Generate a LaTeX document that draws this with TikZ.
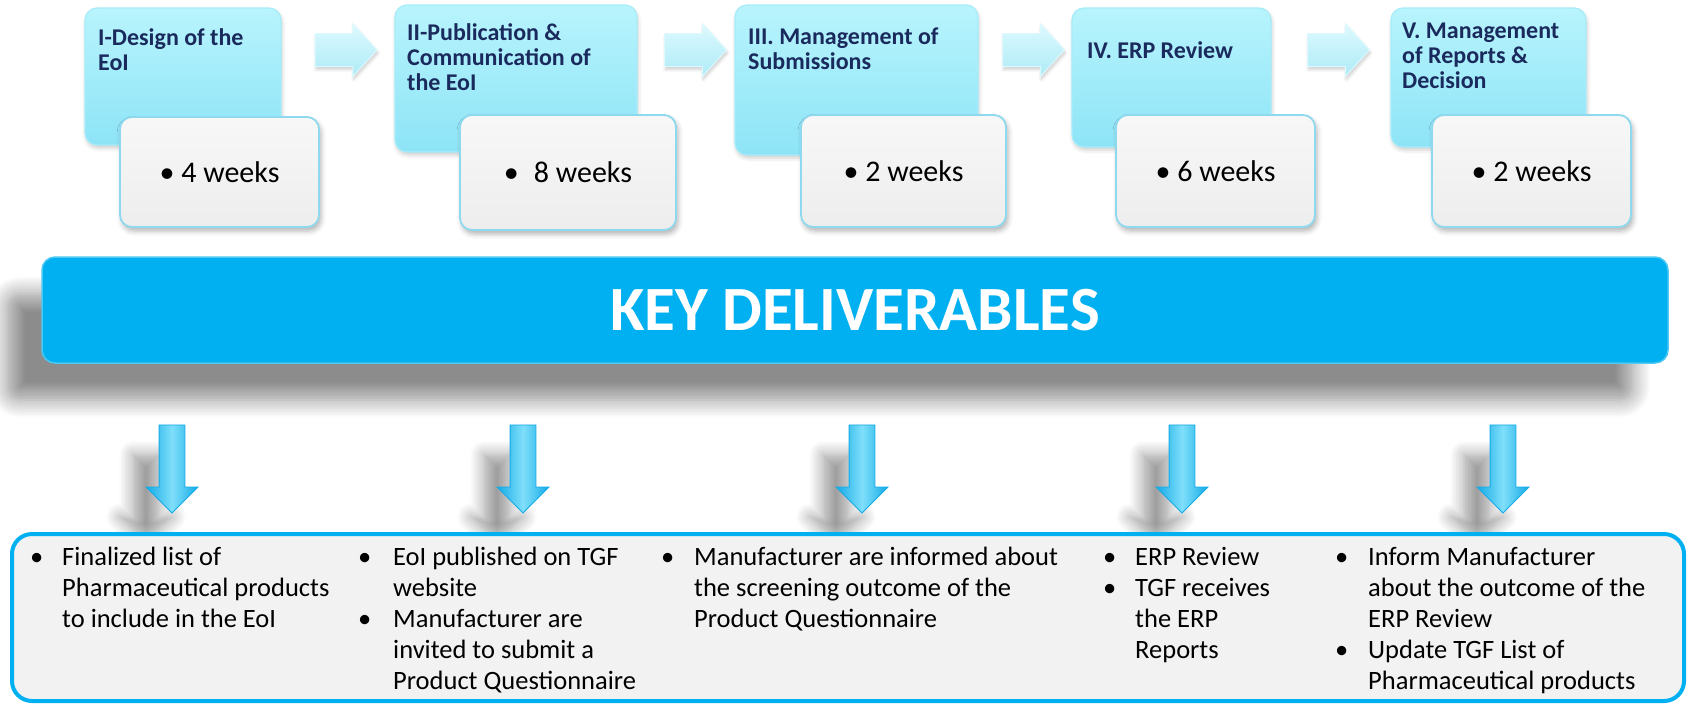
\documentclass[tikz,border=0pt]{standalone}
\usepackage{fontspec}
\setmainfont{Carlito}
\usetikzlibrary{shapes.arrows,shadows.blur}

\definecolor{keyblue}{HTML}{00B0F0}
\definecolor{phasetop}{HTML}{B8F4FD}
\definecolor{phasebot}{HTML}{8DE4F6}
\definecolor{phaseedge}{HTML}{A6ECF9}
\definecolor{navytext}{HTML}{1A2A5C}
\definecolor{weeksedge}{HTML}{8FD9EF}
\definecolor{arrowtop}{HTML}{DDF9FE}
\definecolor{arrowbot}{HTML}{AEEBF7}
\definecolor{downdark}{HTML}{14AAE6}
\definecolor{downlight}{HTML}{7FDFFA}
\definecolor{boxfill}{HTML}{F2F2F2}

\tikzset{
  phase/.style={draw=phaseedge, line width=1.2pt, rounded corners=12pt,
    top color=phasetop, bottom color=phasebot, inner sep=0pt,
    blur shadow={shadow xshift=1pt, shadow yshift=-3pt, shadow blur radius=4pt, shadow opacity=20}},
  phasename/.style={anchor=north west, inner sep=0pt, align=left, text=navytext,
    font=\fontsize{24}{25}\selectfont\bfseries},
  weeks/.style={draw=weeksedge, line width=1.8pt, rounded corners=12pt,
    top color=white!97!black, bottom color=white!93!black, inner sep=0pt,
    font=\fontsize{30}{36}\selectfont,
    blur shadow={shadow xshift=2pt, shadow yshift=-4pt, shadow blur radius=5pt, shadow opacity=30}},
  nextarrow/.style={single arrow, single arrow head extend=10pt, single arrow tip angle=95,
    inner sep=16pt, minimum height=62pt, draw=arrowtop, line width=1pt,
    top color=arrowtop, bottom color=arrowbot,
    blur shadow={shadow xshift=1pt, shadow yshift=-3pt, shadow blur radius=3pt, shadow opacity=20}},
  downarrow/.style={single arrow, shape border rotate=270, single arrow head extend=13pt,
    inner sep=12.5pt, minimum height=88pt, draw=downdark, line width=0.8pt,
    left color=downdark, right color=downdark, middle color=downlight,
    blur shadow={shadow xshift=-26pt, shadow yshift=-30pt, shadow blur radius=14pt, shadow blur steps=10, shadow opacity=40}},
  deliverable/.style={anchor=north west, inner sep=0pt,
    font=\fontsize{26.5}{31}\selectfont}
}

\begin{document}
\begin{tikzpicture}[x=1pt,y=-1pt]
\useasboundingbox (0,0) rectangle (1689,705);

% phases
\node[phase, minimum width=196pt, minimum height=137pt] (b1) at (183,76.5) {};
\node[phase, minimum width=242pt, minimum height=147pt] (b2) at (516,78.5) {};
\node[phase, minimum width=243pt, minimum height=150pt] (b3) at (856.5,80) {};
\node[phase, minimum width=199pt, minimum height=139pt] (b4) at (1171.5,77.5) {};
\node[phase, minimum width=195pt, minimum height=139pt] (b5) at (1488.5,77.5) {};

\node[phasename] (t1) at (98,28) {I-Design of the\\EoI};
\node[phasename] (t2) at (407,23) {II-Publication \&\\Communication of\\the EoI};
\node[phasename] (t3) at (748,28) {III. Management of\\Submissions};
\node[phasename] (t4) at (1087,41) {IV. ERP Review};
\node[phasename] (t5) at (1402,23) {V. Management\\of Reports \&\\Decision};

\node[nextarrow] (h1) at (338.5,50) {};
\node[nextarrow] (h2) at (688,50) {};
\node[nextarrow] (h3) at (1026,50) {};
\node[nextarrow] (h4) at (1331,50) {};

% durations
\node[weeks, minimum width=199pt, minimum height=110pt] (g1) at (219.5,172) {\textbullet\ 4 weeks};
\node[weeks, minimum width=216pt, minimum height=115pt] (g2) at (568,172.5) {\textbullet\enspace 8 weeks};
\node[weeks, minimum width=205pt, minimum height=112pt] (g3) at (903.5,171) {\textbullet\ 2 weeks};
\node[weeks, minimum width=199pt, minimum height=112pt] (g4) at (1215.5,171) {\textbullet\ 6 weeks};
\node[weeks, minimum width=199pt, minimum height=112pt] (g5) at (1531.5,171) {\textbullet\ 2 weeks};

% key deliverables
\node[fill=keyblue, draw=keyblue!70!white, line width=1.5pt, rounded corners=13pt,
  minimum width=1626pt, minimum height=106pt, text=white,
  font=\fontsize{63}{70}\selectfont\bfseries,
  blur shadow={shadow xshift=-35pt, shadow yshift=-37pt, shadow blur radius=18pt, shadow blur steps=12, shadow opacity=45}]
  (key) at (855,310) {KEY DELIVERABLES};

\node[downarrow] (k1) at (172,462.5) {};
\node[downarrow] (k2) at (523,462.5) {};
\node[downarrow] (k3) at (862,462.5) {};
\node[downarrow] (k4) at (1182,462.5) {};
\node[downarrow] (k5) at (1503,462.5) {};

\node[draw=keyblue, line width=4pt, fill=boxfill, rounded corners=20pt,
  minimum width=1672pt, minimum height=167pt] (out) at (848,617.5) {};

\node[deliverable] (d1) at (30,544) {\begin{tabular}{@{}p{32pt}@{}l@{}}
\textbullet & Finalized list of\\
 & Pharmaceutical products\\
 & to include in the EoI
\end{tabular}};
\node[deliverable] (d2) at (358,544) {\begin{tabular}{@{}p{35pt}@{}l@{}}
\textbullet & EoI published on TGF\\
 & website\\
\textbullet & Manufacturer are\\
 & invited to submit a\\
 & Product Questionnaire
\end{tabular}};
\node[deliverable] (d3) at (661,544) {\begin{tabular}{@{}p{33pt}@{}l@{}}
\textbullet & Manufacturer are informed about\\
 & the screening outcome of the\\
 & Product Questionnaire
\end{tabular}};
\node[deliverable] (d4) at (1103,544) {\begin{tabular}{@{}p{32pt}@{}l@{}}
\textbullet & ERP Review\\
\textbullet & TGF receives\\
 & the ERP\\
 & Reports
\end{tabular}};
\node[deliverable] (d5) at (1335,544) {\begin{tabular}{@{}p{33pt}@{}l@{}}
\textbullet & Inform Manufacturer\\
 & about the outcome of the\\
 & ERP Review\\
\textbullet & Update TGF List of\\
 & Pharmaceutical products
\end{tabular}};
\end{tikzpicture}
\end{document}
